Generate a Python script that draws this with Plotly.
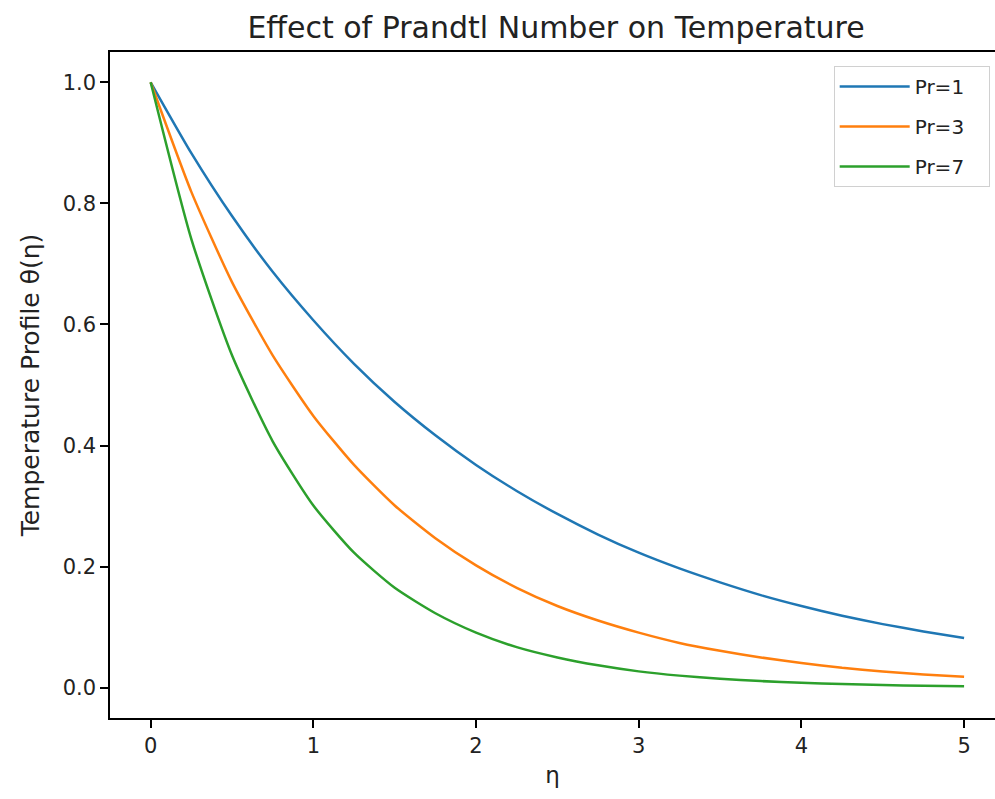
import plotly.graph_objects as go

eta = [0, 0.25, 0.5, 0.75, 1, 1.25, 1.5, 1.75, 2, 2.25, 2.5, 2.75, 3, 3.25, 3.5, 3.75, 4, 4.25, 4.5, 4.75, 5]
theta_pr1 = [1.0, 0.883, 0.779, 0.687, 0.607, 0.535, 0.472, 0.417, 0.368, 0.325, 0.287, 0.253, 0.223, 0.197, 0.174, 0.153, 0.135, 0.119, 0.105, 0.093, 0.082]
theta_pr3 = [1.0, 0.819, 0.670, 0.549, 0.449, 0.368, 0.301, 0.247, 0.202, 0.165, 0.135, 0.111, 0.091, 0.074, 0.061, 0.050, 0.041, 0.033, 0.027, 0.022, 0.018]
theta_pr7 = [1.0, 0.741, 0.549, 0.407, 0.301, 0.223, 0.165, 0.123, 0.091, 0.067, 0.050, 0.037, 0.027, 0.020, 0.015, 0.011, 0.0082, 0.0061, 0.0045, 0.0033, 0.0025]
series_names = ["Pr=1", "Pr=3", "Pr=7"]
colors = ["#1f77b4", "#ff7f0e", "#2ca02c"]
x_ticks = [0, 1, 2, 3, 4, 5]
y_ticks = [0.0, 0.2, 0.4, 0.6, 0.8, 1.0]

font = "DejaVu Sans, Liberation Sans, sans-serif"
pad = "\u00a0\u00a0\u00a0"
fig = go.Figure()
for name, ys, c in zip(series_names, [theta_pr1, theta_pr3, theta_pr7], colors):
    fig.add_trace(go.Scatter(x=eta, y=ys, mode="lines", name=name + pad, legendgroup=name,
                             line=dict(color=c, width=2.5, shape="spline", smoothing=0.6)))

fig.update_layout(
    width=995, height=799,
    paper_bgcolor="white", plot_bgcolor="white",
    margin=dict(l=110, r=0, t=52, b=81),
    font=dict(family=font, size=21, color="#222"),
    title=dict(text="Effect of Prandtl Number on Temperature", x=0.504, xref="paper",
               xanchor="center", y=0.965, yanchor="middle", font=dict(size=30, color="#222")),
    showlegend=True,
    legend=dict(x=0.994, y=0.979, xanchor="right", yanchor="top",
                bgcolor="rgba(255,255,255,0.8)", bordercolor="#d0d0d0", borderwidth=1,
                font=dict(size=20), tracegroupgap=11, itemwidth=70),
)
fig.update_xaxes(range=[-0.25, 5.19], tickvals=x_ticks, ticks="outside", ticklen=8,
                 tickcolor="black", tickwidth=1.5, showline=True, linecolor="black", linewidth=1.5,
                 mirror=True, showgrid=False, zeroline=False,
                 title=dict(text="η", font=dict(size=23), standoff=10))
fig.update_yaxes(range=[-0.05, 1.05], tickvals=y_ticks, tickformat=".1f", ticks="outside",
                 ticklen=8, tickcolor="black", tickwidth=1.5, showline=True, linecolor="black",
                 linewidth=1.5, showgrid=False, zeroline=False,
                 title=dict(text="Temperature Profile θ(η)", font=dict(size=25), standoff=16))
fig.write_html("out.html", config={"displayModeBar": False},
               post_script="document.body.style.margin='0';document.body.style.overflow='hidden';")
